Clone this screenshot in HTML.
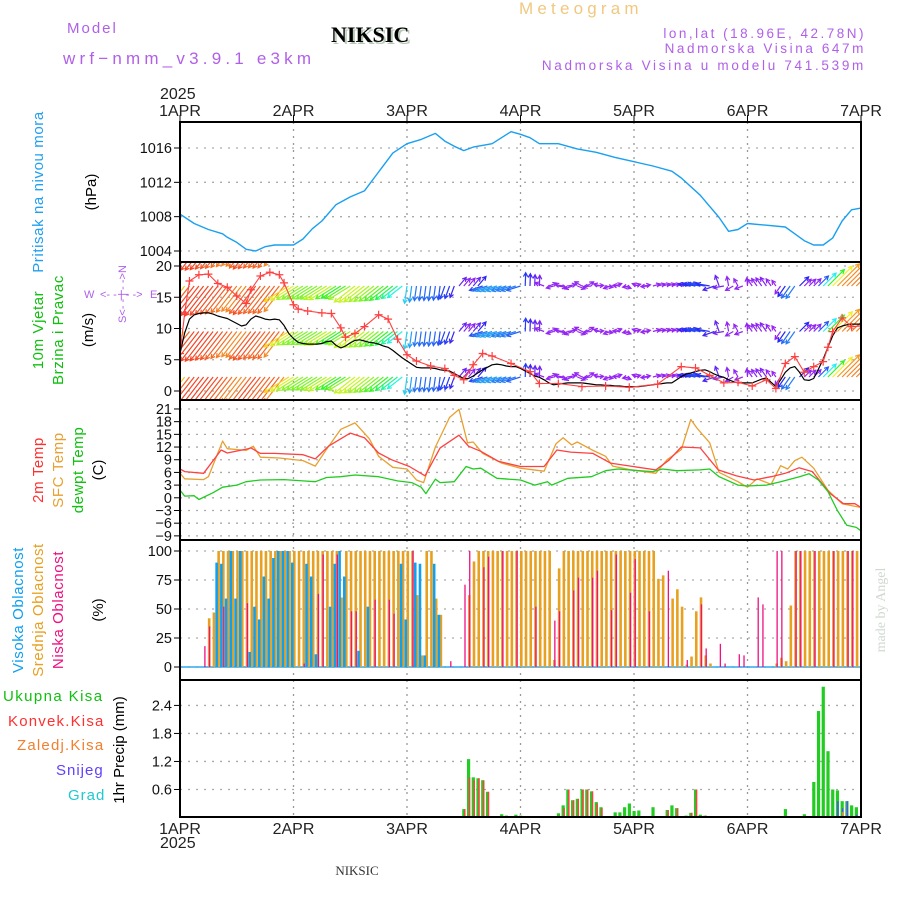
<!DOCTYPE html>
<html><head><meta charset="utf-8"><title>Meteogram NIKSIC</title>
<style>
html,body{margin:0;padding:0;background:#fff;}
svg{display:block;font-family:"Liberation Sans",sans-serif;}
</style></head>
<body>
<svg id="chart" width="900" height="900" viewBox="0 0 900 900" xmlns="http://www.w3.org/2000/svg">
<g>
<text x="67" y="33" font-size="15" fill="#b060e8" letter-spacing="2">Model</text>
<text x="63" y="64" font-size="17" fill="#b060e8" letter-spacing="4.2">wrf−nmm_v3.9.1 e3km</text>
<text x="333" y="44" font-size="22" font-weight="bold" font-family="Liberation Serif,serif" fill="#b8c8b8">NIKSIC</text>
<text x="331" y="42" font-size="22" font-weight="bold" font-family="Liberation Serif,serif" fill="#000">NIKSIC</text>
<text x="519" y="14" font-size="17" fill="#f0c880" letter-spacing="4.2">Meteogram</text>
<text x="866" y="38" font-size="13.5" fill="#b060e8" text-anchor="end" letter-spacing="2.5">lon,lat (18.96E, 42.78N)</text>
<text x="866" y="53" font-size="13.5" fill="#b060e8" text-anchor="end" letter-spacing="2.6">Nadmorska Visina 647m</text>
<text x="866" y="70" font-size="13.5" fill="#b060e8" text-anchor="end" letter-spacing="2.7">Nadmorska Visina u modelu 741.539m</text>
<text x="160" y="99" font-size="16" fill="#222">2025</text>
<text x="160" y="848" font-size="16" fill="#222">2025</text>
<text x="357" y="875" font-size="13" font-family="Liberation Serif,serif" fill="#333" text-anchor="middle">NIKSIC</text>
<text transform="translate(885,610) rotate(-90)" font-size="14" font-family="Liberation Serif,serif" fill="#d0d8d0" text-anchor="middle">made by Angel</text>
</g>
<g font-size="15">
<text transform="translate(43,192) rotate(-90)" fill="#20a0f0" text-anchor="middle" letter-spacing="0.6">Pritisak na nivou mora</text>
<text transform="translate(96,192) rotate(-90)" fill="#000" text-anchor="middle">(hPa)</text>
<text transform="translate(43,330) rotate(-90)" fill="#10c010" text-anchor="middle" letter-spacing="0.6">10m Vjetar</text>
<text transform="translate(63,330) rotate(-90)" fill="#10c010" text-anchor="middle" letter-spacing="0.6">Brzina i Pravac</text>
<text transform="translate(93,330) rotate(-90)" fill="#000" text-anchor="middle">(m/s)</text>
<text transform="translate(43,470) rotate(-90)" fill="#ff3030" text-anchor="middle" letter-spacing="0.6">2m Temp</text>
<text transform="translate(63,470) rotate(-90)" fill="#e8a030" text-anchor="middle" letter-spacing="0.6">SFC Temp</text>
<text transform="translate(83,470) rotate(-90)" fill="#10c010" text-anchor="middle" letter-spacing="0.6">dewpt Temp</text>
<text transform="translate(103,470) rotate(-90)" fill="#000" text-anchor="middle">(C)</text>
<text transform="translate(23,610) rotate(-90)" fill="#10a0f0" text-anchor="middle" letter-spacing="0.6">Visoka Oblacnost</text>
<text transform="translate(43,610) rotate(-90)" fill="#e8a020" text-anchor="middle" letter-spacing="0.6">Srednja Oblacnost</text>
<text transform="translate(63,610) rotate(-90)" fill="#f01080" text-anchor="middle" letter-spacing="0.6">Niska Oblacnost</text>
<text transform="translate(103,610) rotate(-90)" fill="#000" text-anchor="middle">(%)</text>
<text x="3" y="701" fill="#10c010" letter-spacing="1.4">Ukupna Kisa</text>
<text x="8" y="726" fill="#ff3030" letter-spacing="1.2">Konvek.Kisa</text>
<text x="17" y="750" fill="#f08030" letter-spacing="1.2">Zaledj.Kisa</text>
<text x="56" y="775" fill="#6040ff" letter-spacing="1">Snijeg</text>
<text x="68" y="800" fill="#20c8d0" letter-spacing="1">Grad</text>
<text transform="translate(124,750) rotate(-90)" fill="#000" text-anchor="middle">1hr Precip (mm)</text>
</g>
<g fill="#b060e8" font-size="11">
<text x="84" y="298">W</text>
<text x="100" y="298">&lt;- - | - -&gt;</text>
<text x="150" y="298">E</text>
<text transform="translate(126,294) rotate(-90)" text-anchor="middle">S&lt;- - | - -&gt;N</text>
</g>
<g id="plots"></g>
</svg>
<script>
// ---------- data ----------
const dayLabels = ["1APR","2APR","3APR","4APR","5APR","6APR","7APR"];
const pressHours = [0,3,6,9,10,12,14,16,18,20,23,24,26,28,30,33,36,39,42,45,48,51,54,56,58,60,62,66,70,72,74,76,80,84,88,92,96,100,104,106,110,114,116,118,120,124,128,130,132,134,136,138,140,142,144];
const pressVals  = [1008.3,1007.2,1006.5,1006.0,1005.6,1005.0,1004.2,1004.0,1004.5,1004.7,1004.7,1004.7,1005.4,1006.6,1007.5,1009.4,1010.3,1011.0,1013.2,1015.4,1016.5,1017.0,1017.7,1016.8,1016.2,1015.7,1016.1,1016.5,1017.9,1017.6,1017.2,1016.5,1016.5,1015.9,1015.5,1014.9,1014.4,1013.9,1013.3,1012.5,1010.5,1007.9,1006.3,1006.5,1007.2,1007.0,1006.8,1006.0,1005.2,1004.7,1004.7,1005.5,1007.5,1008.8,1009.0];
const pressTicks = [1004,1008,1012,1016];

const windSpd = [6,9.3,11.5,12.2,12.4,12.5,12.5,12.3,12,11.8,11.6,11.2,10.8,10.4,10.6,11.5,12,11.8,11.5,11.4,11.5,11.4,10.5,9.2,8.4,7.8,7.6,7.5,7.5,7.5,7.6,7.9,8.0,7.3,6.9,7.2,7.7,8.1,8.2,8.0,7.8,7.7,7.5,7.2,7.0,6.5,5.9,5.3,4.8,4.3,3.8,3.7,3.7,3.7,3.6,3.4,3.3,3.2,2.8,2.4,2.0,2.0,2.4,2.9,3.4,3.8,4.2,4.3,4.2,4.0,3.9,3.9,3.6,3.2,2.8,2.4,2.2,1.8,1.3,1.0,1.1,1.2,1.3,1.3,1.3,1.3,1.2,1.1,1.0,1.0,0.9,0.9,0.8,0.8,0.7,0.7,0.7,0.7,0.8,0.9,1.0,1.1,1.2,1.3,1.3,1.8,2.3,2.7,2.9,3.1,3.3,3.4,3.1,2.7,2.4,2.2,1.8,1.5,1.3,1.3,1.3,1.3,1.6,1.9,2.1,1.4,0.7,1.8,3.0,3.7,3.9,3.0,1.8,1.7,2.0,3.5,5.1,7.0,8.8,10.1,10.4,10.6,10.7,10.7,10.7];
const windDir = [232,232,232,232,232,232,232,232,232,232,232,232,232,232,232,232,232,232,232,232,232,232,232,
 212,212,212,212,212,212,212,212,212,212,212,212,212,212,
 218,218,218,218,218,218,218,218,218,218,218,
 262,262,262,262,262,262,262,262, 250,250,250, 50,50,50,50,50,
 198,198,198,198,198,198,198,198,198, 88,88,88,88,
 160,20,195,350,170,10,200,340,150,30,185,5,165,350,200,20,175,340,190,15,160,10,185,
 15,15,15,15,15,15,15,15, 170,170,170,170,170,
 200,110,190,100,210,120,200,95, 125,125,125,125,125,125, 235,235,235,235,
 45,45,45,45,45,45,45,45,45,45,45,45,45,45];
const gustHours = [0,1,2,4,6,8,10,12,14,15,17,19,21,22,24,25,27,30,32,34,35,37,39,42,44,46,48,50,53,56,58,60,62,64,66,70,74,76,80,85,90,95,101,106,109,112,115,118,121,124,126,128,130,132,134,136,137,138,140,142,144];
const gustVals  = [6,12.5,17.6,18.6,18.7,17.2,16.6,15.2,14.0,16.2,18.4,19.0,18.6,17.3,13.8,13.1,12.8,12.5,12.4,10.1,8.6,9.2,10.3,12.2,11.5,8.3,5.8,4.8,4.0,3.6,2.5,1.8,4.2,6.0,5.6,4.4,3.1,1.2,1.2,0.7,0.8,0.6,1.1,3.9,3.7,2.5,1.3,1.4,0.8,1.8,0.4,4.4,5.5,3.0,3.9,4.7,7.0,9.5,11.7,10.3,10.4];
const windTicks = [0,5,10,15,20];

const t2Hours = [0,1,5,8.7,10,14.4,15,17,20,26,28.6,31.4,36,39,42,44.7,48.5,51.8,55,59,61,63.6,67.4,72,77,79.7,82.6,87.3,91,95.8,100.6,103.4,106,110,113.8,117.6,121.4,125,128,130.9,133.7,137.5,140.3,142.7,144];
const t2Vals  = [6.8,6.2,5.8,11.3,10.6,11.6,11.8,10.5,10.5,10.2,9.2,12.2,15.3,14.2,10.6,9.0,7.4,5.2,11.8,14.8,12.2,11.0,8.6,7.4,7.4,11.3,10.8,10.5,8.2,7.4,6.6,8.9,12.0,11.8,6.6,5.2,4.2,5.0,5.8,7.1,6.2,1.0,-1.4,-1.4,-2.3];
const sfcHours = [0,1,5,6,9,10,14,15.5,17,21,26,28.6,31,34,37,40,42,45,48,50,51.5,54,57,59,60.8,62,64,68,72,77,79.5,81,82.8,84,87,90,91.5,95,100.6,103,106,108,109.3,112,114,118,120,122,125,127,128.5,130,131.5,134,137,140,144];
const sfcVals  = [5.8,4.5,4.3,5.0,13.4,11.6,11.2,12.2,9.6,9.4,8.8,7.5,11.5,16.2,17.7,14.0,9.8,7.2,6.8,4.2,3.6,12.0,19.0,20.9,13.0,13.2,10.5,8.2,7.0,6.3,12.8,14.2,12.5,13.2,11.4,9.8,7.5,6.7,5.8,9.0,11.4,18.5,16.5,13.0,6.0,3.8,2.5,4.5,3.2,7.6,6.8,8.8,9.6,7.0,1.8,-1.4,-2.3];
const tdHours = [0,1,3,4,7,9,12,14,17,22,26,28.6,31,34,37,42,46,49,51,52,54,55,58,60.5,62,63.6,67,72,75,77.7,78.6,82,87,90,92.6,96,100,102,105,110,112,114,118,120,124,127,131,133,135,137,139,141,143,144];
const tdVals  = [1.8,0.4,0.5,-0.4,1.2,2.5,3.0,3.8,4.2,4.3,4.0,3.8,4.8,5.0,5.4,5.0,4.0,3.6,2.5,1.0,4.4,3.6,3.8,7.4,6.8,7.0,4.6,4.2,3.0,3.8,3.0,4.6,5.0,6.4,6.8,6.5,6.2,6.8,6.4,6.6,6.8,5.0,3.0,2.8,3.0,3.8,5.0,5.7,4.2,1.5,-3.0,-6.5,-7.0,-7.8];
const tempTicks = [-9,-6,-3,0,3,6,9,12,15,18,21];

const midCloud = [0,0,0,0,0,0,42,47,
 100,100,100,100,100,100,100,100,100,100,100,100,100,100,100,100,100,100,100,100,100,100,100,100,100,
 100,60,
 100,100,100,100,100,100,100,100,100,100,100,100,100,100,100,
 62,10,100,100,59,45, 0,0,0,0,0, 62,91,
 100,100,100,100,100,100,100,100,100,100,100,100,100,100,100,100,
 6,85,
 100,100,100,100,100,100,100,100,100,100,100,100,100,100,100,100,100,100,100,100,
 76,79,0,59,67,52,2,9,48,60,10,3,
 0,0,0,0,0,0,0,0,0,0,0,0,0,
 3,8,5,53,
 100,100,100,100,100,100,100,100,100,100,100,100,100,100,100];
const highHours = [8,9,10,11,12,13,15,16,17,18,19,20,21,22,23,24,27,28,29,32,33,34,35,38,40,47,48,50,51,52,54,55];
const highVals  = [90,89,59,100,59,100,13,52,41,78,59,94,100,100,100,90,89,78,11,52,89,100,78,14,52,89,41,90,89,10,89,45];
const lowHours = [5,6,9,14,26,29,30,33,36,37,41,44,45,49,57,60,61,64,65,68,71,75,79,80,83,84,87,88,91,92,95,96,99,103,107,110,111,114,115,118,119,122,123,126,127,130,131,134,138,141,142];
const lowVals  = [18,35,52,55,3,63,97,97,48,48,58,58,46,100,5,71,100,86,95,100,100,52,40,48,66,77,77,83,49,97,64,93,48,83,6,54,16,20,3,11,10,60,54,100,100,100,100,100,100,100,100];
const cloudTicks = [0,25,50,75,100];

const precipHours = [60,61,62,63,64,65,68,69,70,71,72,79,80,81,82,83,84,85,86,87,88,89,92,93,94,95,96,97,100,103,104,105,106,107,108,109,110,111,113,128,132,133,134,135,136,137,138,139,140,141,142,143];
const totalPrecip = [0.18,1.25,0.86,0.84,0.8,0.55,0.07,0.04,0.03,0.06,0.04,0.02,0.09,0.26,0.6,0.37,0.4,0.6,0.6,0.56,0.33,0.22,0.11,0.11,0.22,0.3,0.14,0.15,0.22,0.16,0.26,0.2,0.03,0.04,0.1,0.6,0.06,0.04,0.03,0.18,0.07,0.03,0.76,2.28,2.8,1.42,0.6,0.58,0.35,0.35,0.26,0.22];
const convPrecip  = [0.18,0.86,0.8,0.84,0.79,0.55,0,0,0,0,0,0.02,0.04,0.2,0.6,0.37,0.4,0.6,0.6,0.56,0.3,0.2,0,0,0,0,0,0,0,0.16,0,0.2,0.03,0,0.1,0.6,0,0.04,0.03,0,0,0,0,0,0,0,0,0,0,0,0,0];
const snowPrecip  = [0,0,0,0,0,0,0,0,0,0,0,0,0,0,0,0,0,0,0,0,0,0,0,0,0,0,0,0,0,0,0,0,0,0,0,0,0,0,0,0,0,0,0,0,0,0,0,0.35,0.2,0.35,0,0.06];
const frozenPrecip= [0,0,0,0,0,0,0,0,0,0,0,0,0,0,0,0,0,0,0,0,0,0,0,0,0,0,0,0,0,0,0,0,0,0,0,0,0,0,0,0,0,0,0,0,0,0,0,0,0.12,0,0,0];
const precipTicks = [0.6,1.2,1.8,2.4];

// ---------- layout ----------
const NS = "http://www.w3.org/2000/svg";
const X0 = 180, X1 = 861, HOURS = 144;
const xs = h => X0 + h * (X1 - X0) / HOURS;
const yPress = v => 148 + (1016 - v) * 8.583;
const yWind = v => 391 - v * 6.25;
const yTemp = v => 497.8 - v * 4.23;
const yCloud = v => 667 - v * 1.16;
const yPrec = v => 817.5 - v * 46.7;
const panels = [
  {name:"pressure", top:122, bot:262, ticks:pressTicks, y:yPress, fmt:v=>String(v)},
  {name:"wind", top:262, bot:400, ticks:windTicks, y:yWind, fmt:v=>String(v)},
  {name:"temperature", top:400, bot:540, ticks:tempTicks, y:yTemp, fmt:v=>(v<0?"−"+(-v):String(v))},
  {name:"cloud", top:540, bot:680, ticks:cloudTicks, y:yCloud, fmt:v=>String(v)},
  {name:"precip", top:680, bot:817, ticks:precipTicks, y:yPrec, fmt:v=>v.toFixed(1)}
];
const root = document.getElementById("plots");
function mk(tag, attrs, parent){
  const e = document.createElementNS(NS, tag);
  for (const k in attrs) e.setAttribute(k, attrs[k]);
  (parent||root).appendChild(e);
  return e;
}
function line(hs, vs, yf, color, parent, w){
  const d = hs.map((h,i)=>(i?"L":"M")+xs(h).toFixed(1)+" "+yf(vs[i]).toFixed(1)).join("");
  return mk("path",{d:d, fill:"none", stroke:color, "stroke-width":w||1.3, "stroke-linejoin":"round"}, parent);
}

panels.forEach(p=>{
  const g = mk("g",{});
  
  
  const clipId = "clip-" + p.name;
  const cp = mk("clipPath",{id:clipId}, g);
  mk("rect",{x:X0, y:p.top, width:X1-X0, height:p.bot-p.top}, cp);
  p.g = g; p.clip = clipId;
  for (let d=1; d<6; d++){
    const gl = mk("line",{x1:xs(d*24), x2:xs(d*24), y1:p.top, y2:p.bot, stroke:"#999", "stroke-width":1.3, "stroke-dasharray":"2 5"}, g);
    
    
  }
  p.ticks.forEach(t=>{
    const y = p.y(t);
    const gl = mk("line",{x1:X0, x2:X1, y1:y, y2:y, stroke:"#aaa", "stroke-width":1.3, "stroke-dasharray":"2 6"}, g);
    
    
    const tk = mk("line",{x1:X0-6, x2:X0, y1:y, y2:y, stroke:"#000", "stroke-width":1}, g);
    
    
    const tl = mk("text",{x:X0-8, y:y+5, "font-size":14.5, "text-anchor":"end", fill:"#111"}, g);
    tl.textContent = p.fmt(t);
    
    
  });
  p.data = mk("g",{"clip-path":"url(#"+clipId+")"}, g);
});

const pl = line(pressHours, pressVals, yPress, "#1aa0f0", panels[0].data, 1.4);



function speedColor(s){
  const stops = [[0,275],[2,270],[3.5,225],[5,185],[7,115],[8,75],[10,35],[12,12],[14,0]];
  let hue = 0;
  for (let i=0;i<stops.length-1;i++){
    if (s>=stops[i][0] && s<=stops[i+1][0]){
      const f=(s-stops[i][0])/(stops[i+1][0]-stops[i][0]);
      hue = stops[i][1] + f*(stops[i+1][1]-stops[i][1]);
    }
  }
  if (s>14) hue = 0;
  return "hsl("+hue.toFixed(0)+",90%,55%)";
}
const wg = panels[1].data;
const levels = [240.5, 286, 331.5, 377];
windSpd.forEach((s,h)=>{
  const ang = windDir[h]*Math.PI/180;
  const L = 5 + 2.6*s;
  const dx = Math.cos(ang)*L, dy = -Math.sin(ang)*L;
  const col = speedColor(s);
  levels.forEach(y0=>{
    const x0 = xs(h);
    const x1 = x0+dx, y1 = y0+dy;
    const ha = Math.atan2(dy,dx);
    const hl = 4.5;
    const d = "M"+x0.toFixed(1)+" "+y0+"L"+x1.toFixed(1)+" "+y1.toFixed(1)+
      "M"+(x1-hl*Math.cos(ha-0.5)).toFixed(1)+" "+(y1-hl*Math.sin(ha-0.5)).toFixed(1)+"L"+x1.toFixed(1)+" "+y1.toFixed(1)+
      "L"+(x1-hl*Math.cos(ha+0.5)).toFixed(1)+" "+(y1-hl*Math.sin(ha+0.5)).toFixed(1);
    const a = mk("path",{d:d, stroke:col, "stroke-width":1.2, fill:"none"}, wg);
    
    
  });
});
const hrs = windSpd.map((_,i)=>i);
const sl = line(hrs, windSpd, yWind, "#000", wg, 1.2);


const gl = line(gustHours, gustVals, yWind, "#ff4040", wg, 1.1);


gustHours.forEach((h,i)=>{
  const x = xs(h), y = yWind(gustVals[i]);
  const m = mk("path",{d:"M"+(x-4)+" "+y+"h8M"+x+" "+(y-4)+"v8", stroke:"#ff4040", "stroke-width":1.2}, wg);
  
  
});

const tg = panels[2].data;
const l1 = line(sfcHours, sfcVals, yTemp, "#e8a030", tg, 1.3);


const l2 = line(t2Hours, t2Vals, yTemp, "#ff4040", tg, 1.3);


const l3 = line(tdHours, tdVals, yTemp, "#20cc20", tg, 1.3);



const cg = panels[3].data;
const base = mk("line",{x1:X0, x2:X1, y1:yCloud(0), y2:yCloud(0), stroke:"#30a8f0", "stroke-width":1.5}, cg);


midCloud.forEach((v,h)=>{
  if (v<=0) return;
  const r = mk("rect",{x:xs(h)-0.5, y:yCloud(v), width:2.6, height:yCloud(0)-yCloud(v), fill:"#e8a020"}, cg);
  
  
});
highHours.forEach((h,i)=>{
  const v = highVals[i];
  const r = mk("rect",{x:xs(h)-2.5, y:yCloud(v), width:2.6, height:yCloud(0)-yCloud(v), fill:"#10a0f0"}, cg);
  
  
});
lowHours.forEach((h,i)=>{
  const v = lowVals[i];
  const r = mk("rect",{x:xs(h)+0.6, y:yCloud(v), width:1.3, height:yCloud(0)-yCloud(v), fill:"#f01080"}, cg);
  
  
});

const pg = panels[4].data;
precipHours.forEach((h,i)=>{
  const x = xs(h);
  const t = totalPrecip[i];
  const r = mk("rect",{x:x-1.5, y:yPrec(t), width:3.2, height:yPrec(0)-yPrec(t), fill:"#22cc22"}, pg);
  
  
  if (convPrecip[i]>0){
    const c = mk("rect",{x:x+0.3, y:yPrec(convPrecip[i]), width:1.5, height:yPrec(0)-yPrec(convPrecip[i]), fill:"#ff4040"}, pg);
    
    
  }
  if (snowPrecip[i]>0){
    const s = mk("rect",{x:x-0.2, y:yPrec(snowPrecip[i]), width:1.5, height:yPrec(0)-yPrec(snowPrecip[i]), fill:"#5050ff"}, pg);
    
    
  }
  if (frozenPrecip[i]>0){
    const f = mk("rect",{x:x-0.2, y:yPrec(frozenPrecip[i]), width:1.5, height:yPrec(0)-yPrec(frozenPrecip[i]), fill:"#f08030"}, pg);
    
    
  }
});
const pb = mk("line",{x1:X0, x2:X1, y1:yPrec(0), y2:yPrec(0), stroke:"#000", "stroke-width":1.5, "stroke-dasharray":"4 2"}, pg);



panels.forEach(p=>{
  const f = mk("rect",{x:X0, y:p.top, width:X1-X0, height:p.bot-p.top, fill:"none", stroke:"#000", "stroke-width":2}, p.g);
  
  
});

const ax = mk("g",{});


dayLabels.forEach((lab,d)=>{
  const x = xs(d*24);
  const t1 = mk("line",{x1:x, x2:x, y1:115, y2:122, stroke:"#000", "stroke-width":1}, ax);
  
  
  const tt = mk("text",{x:x, y:116, "font-size":16, "text-anchor":"middle", fill:"#222"}, ax);
  tt.textContent = lab;
  
  
  const bt = mk("text",{x:x, y:834, "font-size":16, "text-anchor":"middle", fill:"#222"}, ax);
  bt.textContent = lab;
  
  
});
</script>
</body></html>
